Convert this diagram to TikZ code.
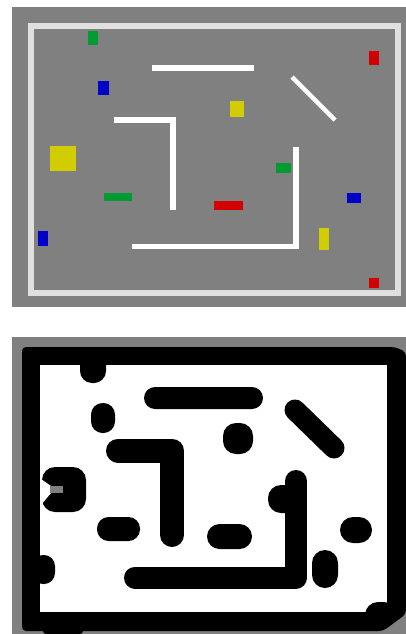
\documentclass[tikz,border=0pt]{standalone}
\begin{document}
\begin{tikzpicture}[x=1pt,y=-1pt,
  panel/.style={fill=black!50},
  wall/.style={fill=white},
  frame/.style={draw=black!12,line width=6pt},
  blob/.style={fill=black},
  thickblob/.style={draw=black,line cap=round,line join=round}]
\definecolor{og}{RGB}{0,155,50}
\definecolor{orr}{RGB}{210,0,0}
\definecolor{ob}{RGB}{0,0,200}
\definecolor{oy}{RGB}{210,205,0}
\useasboundingbox (0,0) rectangle (406,634);
% ---------- top panel ----------
\fill[panel] (12,7) rectangle (406,307);
\draw[frame] (31,26) rectangle (398,293);
% walls
\fill[wall] (152,65) rectangle (254,71);
\draw[white,line width=4.5pt] (292,77) -- (335,120);
\fill[wall] (114,117) rectangle (176,123);
\fill[wall] (170,117) rectangle (176,210);
\fill[wall] (293,147) rectangle (299,249);
\fill[wall] (132,244) rectangle (299,249);
% objects
\fill[og] (88,31) rectangle (98,45);
\fill[orr] (369,51) rectangle (379,65);
\fill[ob] (98,81) rectangle (109,95);
\fill[oy] (230,101) rectangle (244,117);
\fill[oy] (50,146) rectangle (76,171);
\fill[og] (276,163) rectangle (291,173);
\fill[og] (104,193) rectangle (132,201);
\fill[orr] (214,201) rectangle (243,210);
\fill[ob] (347,193) rectangle (361,203);
\fill[ob] (38,231) rectangle (48,246);
\fill[oy] (319,228) rectangle (329,250);
\fill[orr] (369,278) rectangle (379,288);
% ---------- bottom panel ----------
\fill[panel] (12,337) rectangle (406,634);
\fill[blob,rounded corners=4pt] (22,347) -- (395,347) -- (406,352) -- (406,614) -- (383,631) -- (22,631) -- cycle;
\fill[white] (40,365) rectangle (387,612);
\fill[blob,rounded corners=12pt] (80,350) rectangle (106,383);
\fill[blob,rounded corners=11.5pt] (91,403) rectangle (115,433);
\fill[blob,rounded corners=11pt] (144,387) rectangle (263,409);
\draw[thickblob,line width=21pt] (295,410) -- (334,448);
\fill[blob,rounded corners=13pt] (223,423) rectangle (253,454);
\draw[thickblob,line width=24pt] (118,450.5) -- (172,450.5) -- (172,535);
\fill[blob,rounded corners=13pt] (42,467) rectangle (86,512);
\fill[white] (41,479) -- (51,486) -- (51,493) -- (41,505) -- cycle;
\fill[black!50] (50,486) rectangle (63,493);
\fill[blob,rounded corners=11.5pt] (97,517) rectangle (140,541);
\fill[blob,rounded corners=12.5pt] (207,524) rectangle (252,549);
\fill[blob,rounded corners=13pt] (268,485) rectangle (300,513);
\draw[thickblob,line width=22pt] (135,577.5) -- (296,577.5) -- (296,481);
\fill[blob,rounded corners=13pt] (340,517) rectangle (372,543);
\fill[blob,rounded corners=11pt] (32,555) rectangle (55,584);
\fill[blob,rounded corners=13pt] (312,550) rectangle (338,588);
\fill[blob,rounded corners=13pt] (365,602) rectangle (397,627);
\fill[blob,rounded corners=3pt] (43,625) rectangle (83,634);
\end{tikzpicture}
\end{document}
